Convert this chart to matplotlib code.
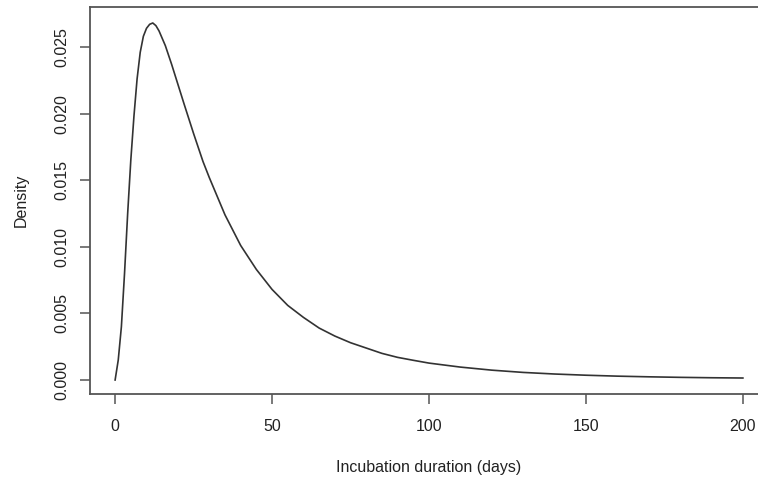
"""
Incubation duration density curve, R base-graphics look.
"""

import matplotlib

matplotlib.use("Agg")
import matplotlib.pyplot as plt

# days since infection and the density
days = [0, 1, 2, 3, 4, 5, 6, 7, 8, 9, 10, 11, 12, 13, 14, 16, 18, 20, 22, 25,
        28, 30, 35, 40, 45, 50, 55, 60, 65, 70, 75, 80, 85, 90, 95, 100, 110,
        120, 130, 140, 150, 160, 170, 180, 190, 200]
density = [0.0, 0.0015, 0.0040, 0.0080, 0.0125, 0.0165, 0.0198, 0.0226,
           0.0246, 0.0258, 0.0264, 0.0267, 0.0268, 0.0266, 0.0262, 0.0251,
           0.0237, 0.0222, 0.0207, 0.0185, 0.0164, 0.0152, 0.0124, 0.0101,
           0.0083, 0.0068, 0.0056, 0.0047, 0.0039, 0.0033, 0.0028, 0.0024,
           0.0020, 0.0017, 0.00148, 0.00127, 0.00097, 0.00074, 0.00057,
           0.00045, 0.00036, 0.00029, 0.00024, 0.00020, 0.00017, 0.00015]

x_ticks = [0, 50, 100, 150, 200]
y_ticks = [0.000, 0.005, 0.010, 0.015, 0.020, 0.025]
y_tick_labels = ["0.000", "0.005", "0.010", "0.015", "0.020", "0.025"]

plt.rcParams["font.family"] = ["Liberation Sans", "DejaVu Sans"]

W, H = 758, 479
fig = plt.figure(figsize=(W / 100, H / 100), dpi=100)
fig.patch.set_facecolor("white")

# plot box runs a little past the right edge, as in the reference crop
ax = fig.add_axes([90 / W, (H - 394) / H, 678 / W, 387 / H])

ax.plot(days, density, color="#333333", linewidth=1.2)

ax.set_xlim(-8, 208)
ax.set_ylim(-0.00105, 0.0280)

ax.set_xticks(x_ticks)
ax.set_xticklabels([str(t) for t in x_ticks])
ax.set_yticks(y_ticks)
ax.set_yticklabels(y_tick_labels, rotation=90, va="center")

for side in ["left", "right", "top", "bottom"]:
    ax.spines[side].set_color("#555555")
    ax.spines[side].set_linewidth(1.3)

ax.tick_params(axis="both", direction="out", length=7, width=1.1,
               color="#555555", labelsize=11.5, labelcolor="#222222")
ax.tick_params(axis="x", pad=11)
ax.tick_params(axis="y", pad=8)

ax.set_xlabel("Incubation duration (days)", fontsize=11.5, color="#222222",
              labelpad=19)
ax.set_ylabel("Density", fontsize=11.5, color="#222222", labelpad=18)

plt.savefig("out.png", dpi=100)
